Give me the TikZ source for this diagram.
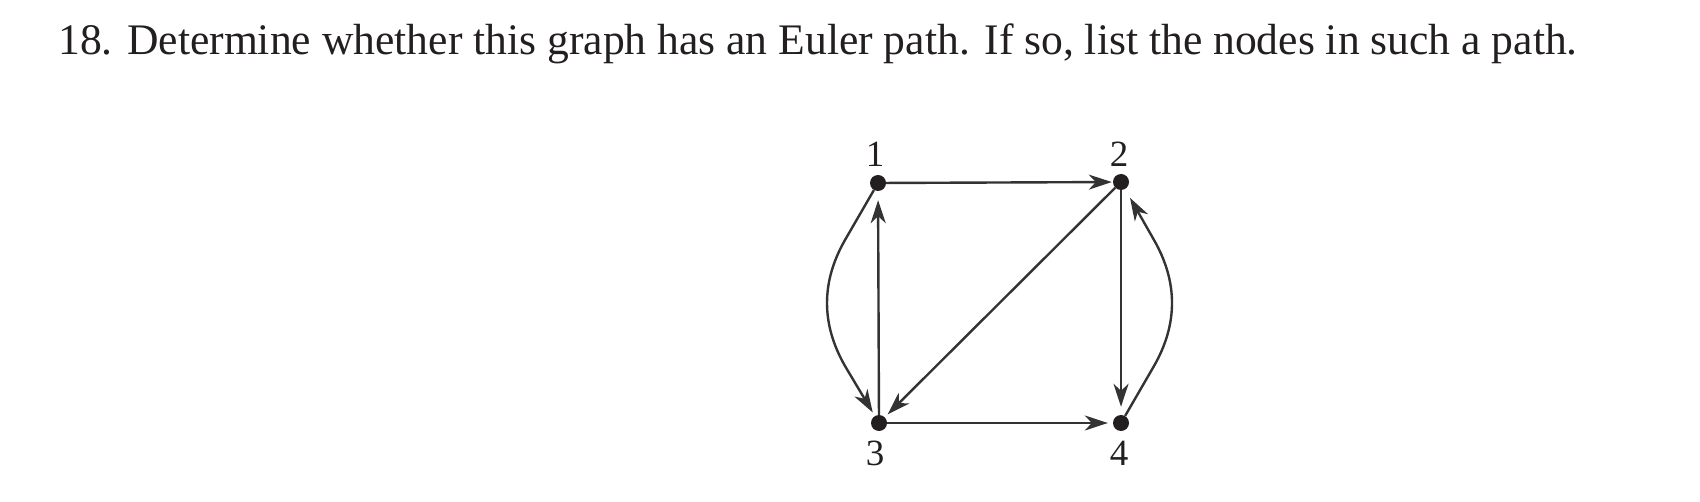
\documentclass[tikz,border=0pt]{standalone}
\usepackage{fontspec}
\setmainfont{Liberation Serif}
\usetikzlibrary{arrows.meta}
\definecolor{ink}{HTML}{231F20}
\definecolor{edgecol}{HTML}{333333}
\tikzset{
  dot/.style={circle,fill=ink,inner sep=0pt,minimum size=16pt},
  lbl/.style={anchor=base,inner sep=0pt,font=\fontsize{37}{40}\selectfont,text=ink},
  edge/.style={draw=edgecol,line width=2.4pt,-{Stealth[length=23pt,width=15pt,inset=7pt]}},
}
\begin{document}
\begin{tikzpicture}[x=1pt,y=-1pt]
\useasboundingbox (0,0) rectangle (1700,502);
\node[anchor=base west,inner sep=0pt,font=\fontsize{43.6}{52}\selectfont,text=ink] (title) at (58,55)
  {18. Determine whether this graph has an Euler path. If so, list the nodes in such a path.};
\node[dot] (n1) at (878,183) {};
\node[dot] (n2) at (1121,182) {};
\node[dot] (n3) at (879,423) {};
\node[dot] (n4) at (1121,423) {};
\node[lbl] (l1) at (875,167) {1};
\node[lbl] (l2) at (1119,167) {2};
\node[lbl] (l3) at (875,465) {3};
\node[lbl] (l4) at (1119,465) {4};
\coordinate (a1) at (845,240);
\coordinate (a2) at (845,366);
\coordinate (b1) at (1154,366);
\coordinate (b2) at (1154,240);
\draw[edge,shorten >=1pt] (n1) -- (n2);
\draw[edge,shorten >=5pt] (n3) -- (n4);
\draw[edge,shorten >=9pt] (n3) -- (n1);
\draw[edge,shorten >=8pt] (n2) -- (n4);
\draw[edge,shorten >=4pt] (n2) -- (n3);
\draw[edge,shorten >=4pt] (n1) -- (a1) .. controls (821,282) and (821,324) .. (a2) -- (n3);
\draw[edge,shorten >=10pt] (n4) -- (b1) .. controls (1178,324) and (1178,282) .. (b2) -- (n2);
\end{tikzpicture}
\end{document}
